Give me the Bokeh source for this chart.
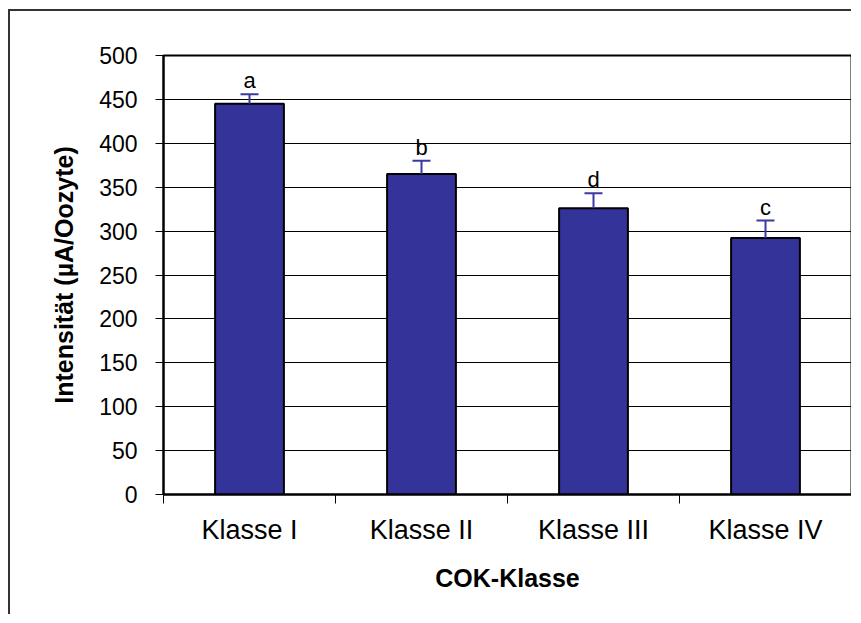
from bokeh.plotting import figure
from bokeh.models import ColumnDataSource, FixedTicker, Whisker, TeeHead, Range1d
from bokeh.embed import file_html
from bokeh.resources import INLINE
from bokeh.core.properties import value

# ---- data ----
categories = ["Klasse I", "Klasse II", "Klasse III", "Klasse IV"]
intensity = [445, 365, 326, 292]
errors = [11, 15, 17, 20]
letters = ["a", "b", "d", "c"]
y_ticks = [0, 50, 100, 150, 200, 250, 300, 350, 400, 450, 500]

FONT = "Liberation Sans"
BAR = "#333399"
ERR = "#3a3aa0"

centers = [i + 0.5 for i in range(len(categories))]
bounds = list(range(len(categories) + 1))
src = ColumnDataSource(dict(
    x=centers,
    top=intensity,
    upper=[v + e for v, e in zip(intensity, errors)],
    letter=letters,
))

p = figure(width=843, height=605,
           x_range=Range1d(0, len(categories)), y_range=Range1d(0, 500),
           output_backend="svg", toolbar_location=None,
           min_border_left=153, min_border_right=2,
           min_border_top=44, min_border_bottom=122)
p.styles = {"margin-left": "8px", "margin-top": "9px",
            "border-left": "2px solid #333333", "border-top": "2px solid #333333"}

p.outline_line_color = "black"
p.outline_line_width = 2
p.background_fill_color = "white"
p.border_fill_color = "white"

# grid
p.xgrid.visible = False
p.ygrid.grid_line_color = "black"
p.ygrid.grid_line_width = 1

# bars
p.vbar(x="x", top="top", width=0.4, source=src, fill_color=BAR,
       line_color="black", line_width=2)

# error bars (upper only)
wh = Whisker(source=src, base="x", upper="upper", lower="top",
             upper_head=TeeHead(size=18, line_color=ERR, line_width=2),
             lower_head=None, line_color=ERR, line_width=2, level="overlay")
p.add_layout(wh)

# significance letters
p.text(x="x", y="upper", text="letter", source=src, text_align="center",
       text_baseline="bottom", y_offset=-1, text_font=value(FONT),
       text_font_size="22px", text_color="black")

# y axis
yax = p.yaxis[0]
yax.ticker = FixedTicker(ticks=y_ticks)
yax.axis_line_color = "black"
yax.axis_line_width = 2
yax.major_tick_out = 8
yax.major_tick_in = 0
yax.major_tick_line_color = "black"
yax.minor_tick_line_color = None
yax.major_label_text_font = FONT
yax.major_label_text_font_size = "23px"
yax.major_label_text_color = "black"
yax.major_label_standoff = 18
yax.axis_label = "Intensität (µA/Oozyte)"
yax.axis_label_text_font = FONT
yax.axis_label_text_font_style = "bold"
yax.axis_label_text_font_size = "25px"
yax.axis_label_text_color = "black"
yax.axis_label_standoff = 18

# x axis: labels at category centres, tick marks at boundaries
xax = p.xaxis[0]
xax.ticker = FixedTicker(ticks=centers, minor_ticks=bounds)
xax.major_label_overrides = {c: cat for c, cat in zip(centers, categories)}
xax.axis_line_color = "black"
xax.axis_line_width = 2
xax.major_tick_line_color = None
xax.major_tick_out = 0
xax.major_tick_in = 0
xax.minor_tick_line_color = "black"
xax.minor_tick_out = 9
xax.minor_tick_in = 0
xax.major_label_text_font = FONT
xax.major_label_text_font_size = "27px"
xax.major_label_text_color = "black"
xax.major_label_standoff = 11
xax.axis_label = "COK-Klasse"
xax.axis_label_text_font = FONT
xax.axis_label_text_font_style = "bold"
xax.axis_label_text_font_size = "25px"
xax.axis_label_text_color = "black"
xax.axis_label_standoff = 16

open("out.html", "w").write(file_html(p, INLINE))
